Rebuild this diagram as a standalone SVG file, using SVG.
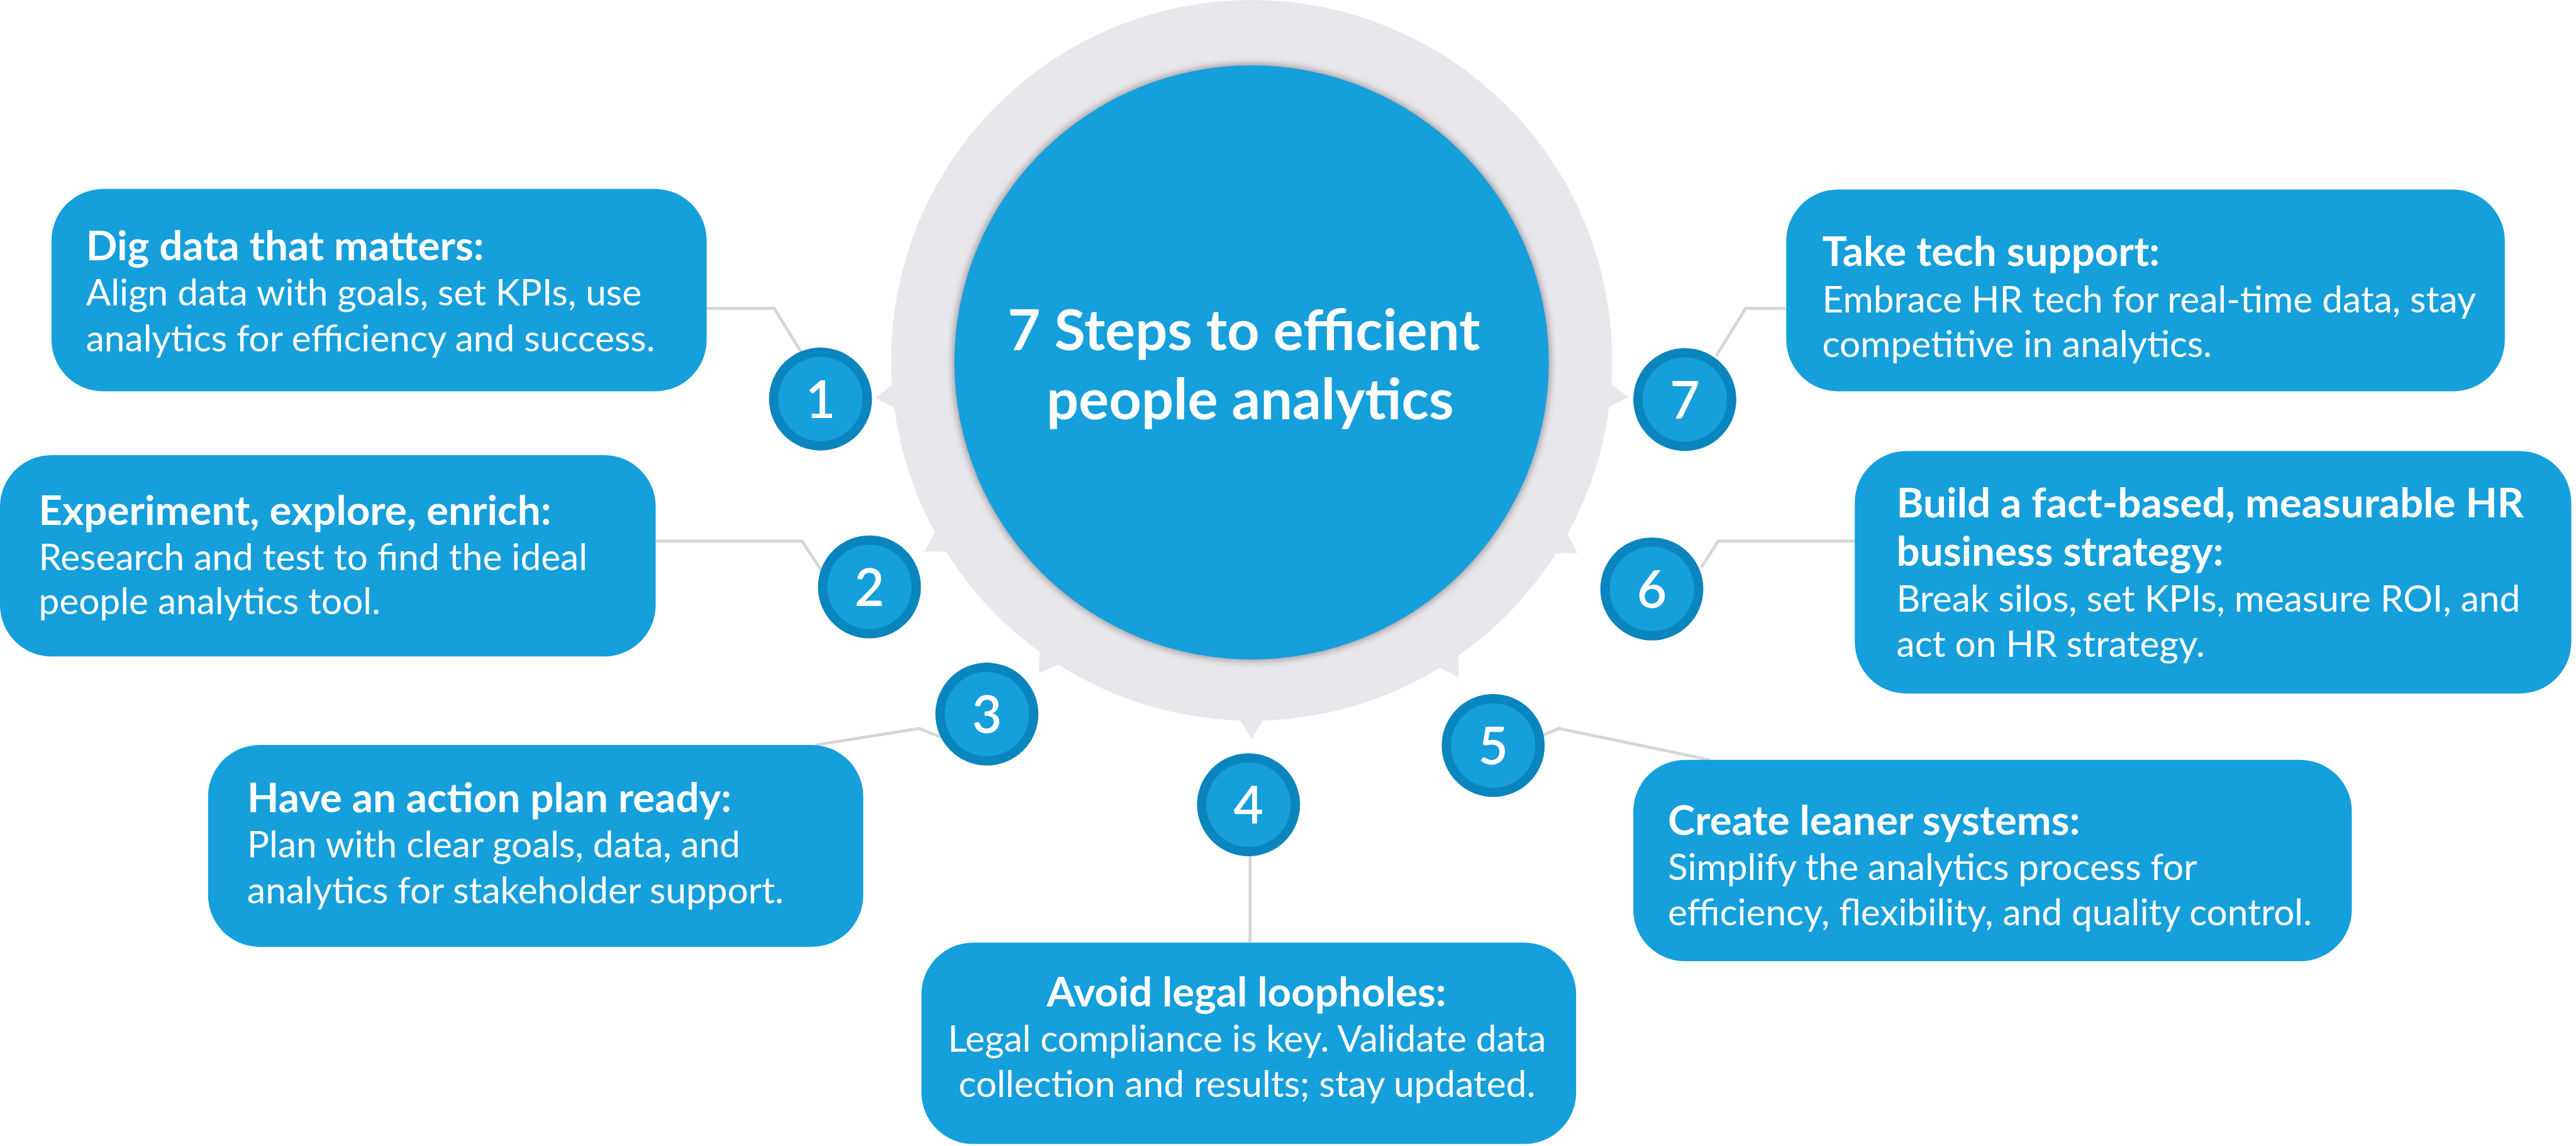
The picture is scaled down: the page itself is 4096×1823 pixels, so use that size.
<svg xmlns="http://www.w3.org/2000/svg" width="4096" height="1823" viewBox="0 0 4096 1823">
<style>
.box{fill:#159fdb}
.ring{fill:#0b85bd}
.inner{fill:#159fdb}
.num{font-family:Lato,"Liberation Sans",sans-serif;font-weight:600;font-size:100px;fill:#fff;text-anchor:middle}
.t{font-family:Lato,"Liberation Sans",sans-serif;font-weight:700;font-size:80px;fill:#fff}
.b{font-family:Lato,"Liberation Sans",sans-serif;font-weight:400;font-size:71.5px;fill:#fff}
.conn{fill:none;stroke:#d6d6d8;stroke-width:6;stroke-linejoin:round}
.notch{fill:#e8e7eb}
</style>
<defs>
<path id="notch" d="M3123,674 L3165,700 L3123,726 Z"/>
<filter id="sh" x="-10%" y="-10%" width="120%" height="120%"><feGaussianBlur stdDeviation="7"/></filter>
</defs>
<rect width="4096" height="1823" fill="#fff"/>
<g transform="scale(0.819)">
<g id="hub">
<circle cx="2430" cy="700" r="700" fill="#e8e7eb"/>
<g class="notch">
<use href="#notch" transform="rotate(5.6 2430 700)"/>
<use href="#notch" transform="rotate(30.6 2430 700)"/>
<use href="#notch" transform="rotate(56.8 2430 700)"/>
<use href="#notch" transform="rotate(90 2430 700)"/>
<use href="#notch" transform="rotate(124.2 2430 700)"/>
<use href="#notch" transform="rotate(149.7 2430 700)"/>
<use href="#notch" transform="rotate(174.3 2430 700)"/>
</g>
<circle cx="2430" cy="704" r="580" fill="#9a969c" filter="url(#sh)"/>
<circle cx="2430" cy="704" r="577" fill="#159fdb"/>
<text x="2415" y="680" font-family="Lato,'Liberation Sans',sans-serif" font-weight="700" font-size="110" fill="#fff" text-anchor="middle">7 Steps to efficient</text>
<text x="2427" y="815" font-family="Lato,'Liberation Sans',sans-serif" font-weight="700" font-size="110" fill="#fff" text-anchor="middle">people analytics</text>
</g>
<g id="connectors">
<polyline class="conn" points="1372,599 1503,599 1555,683"/>
<polyline class="conn" points="1273,1051 1557,1051 1594,1107"/>
<polyline class="conn" points="1584,1447 1784,1415 1828,1432"/>
<polyline class="conn" points="2427,1663 2427,1832"/>
<polyline class="conn" points="2995,1428 3027,1415 3320,1476"/>
<polyline class="conn" points="3303,1102 3336,1051 3601,1051"/>
<polyline class="conn" points="3332,691 3389,599 3468,599"/>
</g>
<g id="step1">
<rect class="box" x="100" y="367" width="1272" height="393" rx="100"/>
<text class="t" x="167" y="505">Dig data that matters:</text>
<text class="b" x="167" y="594">Align data with goals, set KPIs, use</text>
<text class="b" x="167" y="682">analytics for efficiency and success.</text>
<circle class="ring" cx="1593" cy="775" r="100"/>
<circle class="inner" cx="1593" cy="775" r="82"/>
<text class="num" x="1593" y="812">1</text>
</g>
<g id="step2">
<rect class="box" x="0" y="884" width="1273" height="391" rx="100"/>
<text class="t" x="75" y="1019">Experiment, explore, enrich:</text>
<text class="b" x="75" y="1107">Research and test to find the ideal</text>
<text class="b" x="75" y="1193">people analytics tool.</text>
<circle class="ring" cx="1688" cy="1140" r="100"/>
<circle class="inner" cx="1688" cy="1140" r="82"/>
<text class="num" x="1688" y="1177">2</text>
</g>
<g id="step3">
<rect class="box" x="404" y="1447" width="1272" height="392" rx="100"/>
<text class="t" x="480" y="1578">Have an action plan ready:</text>
<text class="b" x="480" y="1666">Plan with clear goals, data, and</text>
<text class="b" x="480" y="1754">analytics for stakeholder support.</text>
<circle class="ring" cx="1916" cy="1387" r="100"/>
<circle class="inner" cx="1916" cy="1387" r="82"/>
<text class="num" x="1916" y="1424">3</text>
</g>
<g id="step4">
<rect class="box" x="1789" y="1831" width="1271" height="391" rx="100"/>
<text class="t" x="2420" y="1955" text-anchor="middle">Avoid legal loopholes:</text>
<text class="b" x="2421" y="2043" text-anchor="middle">Legal compliance is key. Validate data</text>
<text class="b" x="2421" y="2131" text-anchor="middle">collection and results; stay updated.</text>
<circle class="ring" cx="2424" cy="1563" r="100"/>
<circle class="inner" cx="2424" cy="1563" r="82"/>
<text class="num" x="2424" y="1600">4</text>
</g>
<g id="step5">
<rect class="box" x="3171" y="1476" width="1395" height="391" rx="100"/>
<text class="t" x="3238" y="1621">Create leaner systems:</text>
<text class="b" x="3238" y="1709">Simplify the analytics process for</text>
<text class="b" x="3238" y="1797">efficiency, flexibility, and quality control.</text>
<circle class="ring" cx="2899" cy="1448" r="100"/>
<circle class="inner" cx="2899" cy="1448" r="82"/>
<text class="num" x="2899" y="1485">5</text>
</g>
<g id="step6">
<rect class="box" x="3601" y="876" width="1391" height="471" rx="100"/>
<text class="t" x="3682" y="1005">Build a fact-based, measurable HR</text>
<text class="t" x="3682" y="1099">business strategy:</text>
<text class="b" x="3682" y="1188">Break silos, set KPIs, measure ROI, and</text>
<text class="b" x="3682" y="1276">act on HR strategy.</text>
<circle class="ring" cx="3207" cy="1144" r="100"/>
<circle class="inner" cx="3207" cy="1144" r="82"/>
<text class="num" x="3207" y="1181">6</text>
</g>
<g id="step7">
<rect class="box" x="3468" y="368" width="1395" height="392" rx="100"/>
<text class="t" x="3538" y="517">Take tech support:</text>
<text class="b" x="3538" y="607">Embrace HR tech for real-time data, stay</text>
<text class="b" x="3538" y="693">competitive in analytics.</text>
<circle class="ring" cx="3271" cy="776" r="100"/>
<circle class="inner" cx="3271" cy="776" r="82"/>
<text class="num" x="3271" y="813">7</text>
</g>
</g>
</svg>
